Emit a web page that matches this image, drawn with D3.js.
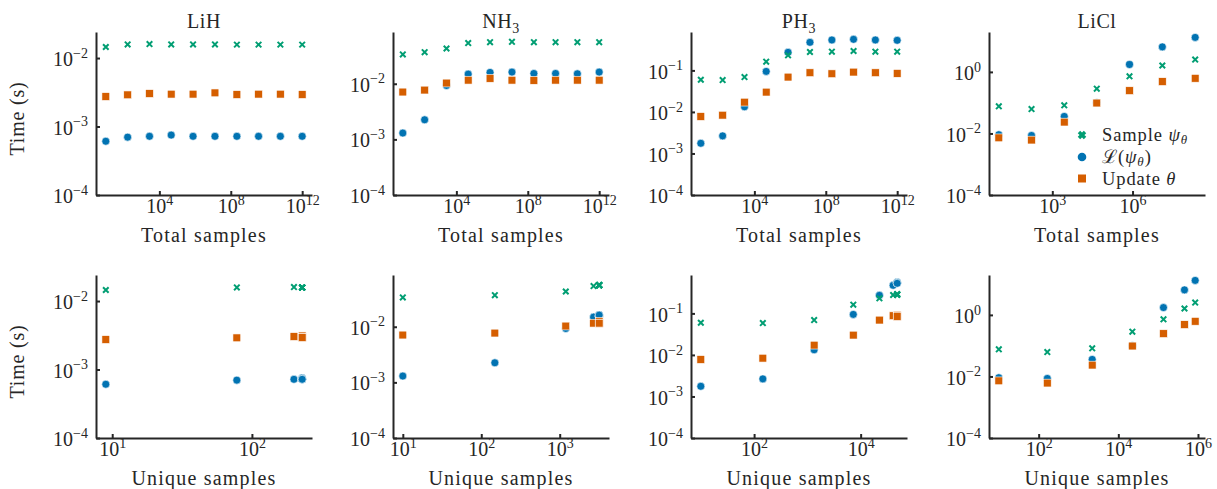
<!DOCTYPE html>
<meta charset="utf-8">
<title>Timing per molecule</title>
<style>
body {
  margin: 0;
  background: #fff;
}
text {
  font-family: 'Liberation Serif', 'DejaVu Serif', serif;
  fill: #262626;
}
.axis .domain {
  stroke: #262626;
  stroke-width: 2;
}
.axis .tick line {
  stroke: #262626;
  stroke-width: 2;
}
</style>
<body>
  <svg width="1217" height="489"></svg>
</body>
<script src="https://cdn.jsdelivr.net/npm/d3@7/dist/d3.min.js"></script>
<script>
// ---- data ----
var molecules = ["LiH", "NH3", "PH3", "LiCl"];
var totalSamples = [10, 167, 2.8e3, 4.6e4, 7.7e5, 1.3e7, 2.2e8, 3.6e9, 6e10, 1e12];

var sampleLiH = [0.0145, 0.0158, 0.016, 0.0158, 0.0158, 0.0158, 0.0157, 0.0157, 0.0157, 0.0157];
var lossLiH   = [0.00061, 0.0007, 0.00072, 0.00075, 0.00072, 0.00072, 0.00072, 0.00072, 0.00072, 0.00072];
var updateLiH = [0.00274, 0.0029, 0.00303, 0.00297, 0.00297, 0.0031, 0.00293, 0.00297, 0.00297, 0.00293];
var uniqueLiH = [9, 78, 200, 229, 229, 229, 229, 229, 229, 229];

var sampleNH3 = [0.0337, 0.037, 0.0431, 0.0538, 0.056, 0.0568, 0.056, 0.056, 0.056, 0.056];
var lossNH3   = [0.0013, 0.00225, 0.0093, 0.0149, 0.016, 0.0162, 0.0153, 0.0153, 0.0151, 0.0162];
var updateNH3 = [0.0071, 0.0077, 0.0103, 0.0116, 0.0125, 0.0116, 0.0115, 0.0116, 0.0116, 0.0116];
var uniqueNH3 = [10, 149, 1195, 2700, 3185, 3185, 3185, 3185, 3185, 3185];

var samplePH3 = [0.0596, 0.0585, 0.069, 0.162, 0.23, 0.277, 0.282, 0.293, 0.282, 0.282];
var lossPH3   = [0.00176, 0.00265, 0.0133, 0.0946, 0.272, 0.474, 0.54, 0.56, 0.54, 0.53];
var updatePH3 = [0.00776, 0.00836, 0.0172, 0.03, 0.069, 0.0879, 0.083, 0.091, 0.0879, 0.0847];
var uniquePH3 = [10, 146, 1340, 7280, 22500, 40700, 48500, 48500, 48500, 48500];

var sampleLiCl = [0.076, 0.062, 0.082, 0.286, 0.72, 1.61, 2.52];
var lossLiCl   = [0.0091, 0.0086, 0.0358, 0.1, 1.73, 6.5, 13.2];
var updateLiCl = [0.0072, 0.0061, 0.0234, 0.0975, 0.246, 0.484, 0.62];
var uniqueLiCl = [10, 165, 2210, 22500, 136000, 458000, 850000];

// tick values (labels are drawn as 10^k)
var yTicks = { LiH: [-4, -3, -2], NH3: [-4, -3, -2], PH3: [-4, -3, -2, -1], LiCl: [-4, -2, 0] };
var xTicksTotal = { LiH: [4, 8, 12], NH3: [4, 8, 12], PH3: [4, 8, 12], LiCl: [3, 6] };
var xTicksUnique = { LiH: [1, 2], NH3: [1, 2, 3], PH3: [2, 4], LiCl: [2, 4, 6] };

var titles = { LiH: ["LiH", ""], NH3: ["NH", "3"], PH3: ["PH", "3"], LiCl: ["LiCl", ""] };
var seriesNames = ["Sample", "Loss", "Update"];
var colors = { Sample: "#029e73", Loss: "#0173b2", Update: "#d55e00" };

var table = {
  LiH:  { Sample: sampleLiH,  Loss: lossLiH,  Update: updateLiH,  unique: uniqueLiH },
  NH3:  { Sample: sampleNH3,  Loss: lossNH3,  Update: updateNH3,  unique: uniqueNH3 },
  PH3:  { Sample: samplePH3,  Loss: lossPH3,  Update: updatePH3,  unique: uniquePH3 },
  LiCl: { Sample: sampleLiCl, Loss: lossLiCl, Update: updateLiCl, unique: uniqueLiCl }
};

// ---- layout ----
var svg = d3.select("svg");
var lefts = [96, 393, 691, 989],
    tops = [32, 275],
    pw = 216,
    ph = 163;

function padLog(ext, f) {
  var a = Math.log10(ext[0]), b = Math.log10(ext[1]), p = (b - a) * f;
  return [Math.pow(10, a - p), Math.pow(10, b + p)];
}

function powLabel(sel, fs) {
  sel.each(function(k) {
    var t = d3.select(this).text(null);
    t.append("tspan").text("10");
    t.append("tspan")
      .attr("dy", -8.5)
      .attr("font-size", fs)
      .text(String(k).replace("-", "\u2212"));
  });
}

function drawPanel(mol, row, col) {
  var d = table[mol];
  var xs = row === 0 ? totalSamples.slice(0, d.Sample.length) : d.unique;
  var allY = d.Sample.concat(d.Loss, d.Update);

  var x = d3.scaleLog().domain(padLog(d3.extent(xs), 0.05)).range([0, pw]);
  var y = d3.scaleLog().domain([1e-4, d3.max(allY) * 1.5]).range([ph, 0]);

  var g = svg.append("g")
    .attr("transform", "translate(" + lefts[col] + "," + tops[row] + ")");

  // markers: loss first so the others sit on top
  ["Loss", "Sample", "Update"].forEach(function(s) {
    var pts = d[s].map(function(v, i) { return { x: xs[i], y: v }; });
    var sel = g.append("g").selectAll("path").data(pts).enter();
    if (s === "Loss") {
      sel.append("circle")
        .attr("cx", function(p) { return x(p.x); })
        .attr("cy", function(p) { return y(p.y); })
        .attr("r", 4)
        .attr("fill", colors[s])
        .attr("stroke", "#fff")
        .attr("stroke-width", 0.6);
    } else if (s === "Update") {
      sel.append("rect")
        .attr("x", function(p) { return x(p.x) - 3.9; })
        .attr("y", function(p) { return y(p.y) - 3.9; })
        .attr("width", 7.8)
        .attr("height", 7.8)
        .attr("fill", colors[s])
        .attr("stroke", "#fff")
        .attr("stroke-width", 0.6);
    } else {
      sel.append("path")
        .attr("d", d3.symbol(d3.symbolX, 22))
        .attr("transform", function(p) { return "translate(" + x(p.x) + "," + y(p.y) + ")"; })
        .attr("fill", "none")
        .attr("stroke", colors[s])
        .attr("stroke-width", 2);
    }
  });

  // axes with inward ticks
  var xTicks = (row === 0 ? xTicksTotal : xTicksUnique)[mol];
  var xa = g.append("g")
    .attr("class", "axis")
    .attr("transform", "translate(0," + ph + ")")
    .call(d3.axisBottom(x)
      .tickValues(xTicks.map(function(k) { return Math.pow(10, k); }))
      .tickSize(-4).tickSizeOuter(0).tickPadding(4));
  xa.attr("font-family", null).attr("font-size", 20);
  xa.selectAll(".tick text")
    .data(xTicks)
    .attr("dy", "0.71em")
    .call(powLabel, 14);

  var ya = g.append("g")
    .attr("class", "axis")
    .call(d3.axisLeft(y)
      .tickValues(yTicks[mol].map(function(k) { return Math.pow(10, k); }))
      .tickSize(-4).tickSizeOuter(0).tickPadding(8));
  ya.attr("font-family", null).attr("font-size", 20);
  ya.selectAll(".tick text")
    .data(yTicks[mol])
    .attr("dy", "0.38em")
    .call(powLabel, 14);

  // title, axis labels
  if (row === 0) {
    var tt = g.append("text")
      .attr("x", pw / 2)
      .attr("y", -4)
      .attr("text-anchor", "middle")
      .attr("font-size", 20)
      .attr("letter-spacing", 0.6)
      .text(titles[mol][0]);
    if (titles[mol][1]) {
      tt.append("tspan").attr("dy", 5).attr("font-size", 14).text(titles[mol][1]);
    }
  }
  g.append("text")
    .attr("x", pw / 2)
    .attr("y", ph + 47)
    .attr("text-anchor", "middle")
    .attr("font-size", 20)
    .attr("letter-spacing", 1.2)
    .text(row === 0 ? "Total samples" : "Unique samples");

  if (col === 0) {
    g.append("text")
      .attr("transform", "translate(" + (24 - lefts[col]) + "," + (ph / 2 + 5) + ") rotate(-90)")
      .attr("text-anchor", "middle")
      .attr("font-size", 20)
      .attr("letter-spacing", 0.8)
      .text("Time (s)");
  }
}

molecules.forEach(function(m, i) {
  drawPanel(m, 0, i);
  drawPanel(m, 1, i);
});

// legend inside the LiCl panel
var legend = svg.append("g").attr("transform", "translate(1082,135)");
var legendRows = legend.selectAll("g")
  .data(seriesNames)
  .enter().append("g")
  .attr("transform", function(d, i) { return "translate(0," + [0, 22, 43.5][i] + ")"; });

legendRows.each(function(s) {
  var r = d3.select(this);
  if (s === "Sample") {
    r.append("path")
      .attr("d", d3.symbol(d3.symbolX, 26))
      .attr("fill", "none")
      .attr("stroke", colors[s])
      .attr("stroke-width", 3.4);
  } else if (s === "Loss") {
    r.append("circle").attr("r", 4.3).attr("fill", colors[s]);
  } else {
    r.append("rect").attr("x", -4).attr("y", -4).attr("width", 8).attr("height", 8).attr("fill", colors[s]);
  }
  var t = r.append("text")
    .attr("x", 20)
    .attr("dy", "0.35em")
    .attr("font-size", 18.5)
    .attr("letter-spacing", 0.9);
  if (s === "Sample") {
    t.append("tspan").text("Sample ");
    t.append("tspan").attr("font-style", "italic").text("\u03c8");
    t.append("tspan").attr("font-style", "italic").attr("font-size", 13).attr("dy", 3).text("\u03b8");
  } else if (s === "Loss") {
    t.append("tspan").attr("font-family", "'Liberation Serif', serif").text("\u2112(");
    t.append("tspan").attr("font-style", "italic").text("\u03c8");
    t.append("tspan").attr("font-style", "italic").attr("font-size", 13).attr("dy", 3).text("\u03b8");
    t.append("tspan").attr("dy", -3).text(")");
  } else {
    t.append("tspan").text("Update ");
    t.append("tspan").attr("font-style", "italic").text("\u03b8");
  }
});
</script>
